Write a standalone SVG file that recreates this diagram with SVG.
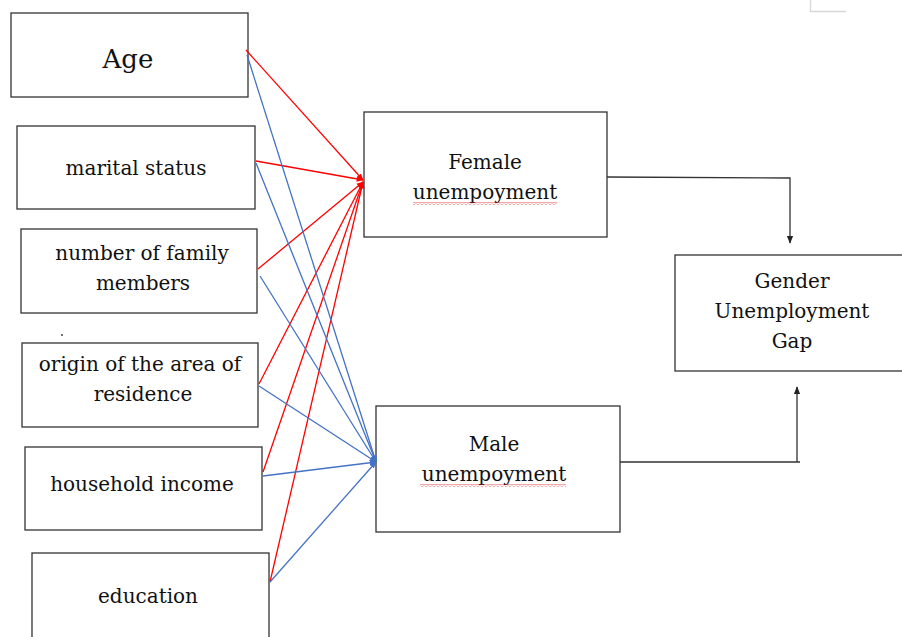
<svg xmlns="http://www.w3.org/2000/svg" width="902" height="637" viewBox="0 0 902 637">
<defs>
<marker id="ar" viewBox="0 0 10 10" refX="9" refY="5" markerWidth="7" markerHeight="7" orient="auto" markerUnits="userSpaceOnUse"><path d="M0,1 L10,5 L0,9 z" fill="#ff0000"/></marker>
<marker id="ab" viewBox="0 0 10 10" refX="9" refY="5" markerWidth="7" markerHeight="7" orient="auto" markerUnits="userSpaceOnUse"><path d="M0,1 L10,5 L0,9 z" fill="#4472c4"/></marker>
<marker id="ak" viewBox="0 0 10 10" refX="9" refY="5" markerWidth="8" markerHeight="8" orient="auto" markerUnits="userSpaceOnUse"><path d="M0,1 L10,5 L0,9 z" fill="#222"/></marker>
<pattern id="wave" x="0" y="0" width="4" height="3" patternUnits="userSpaceOnUse"><path d="M0,2.5 L2,0.5 L4,2.5" fill="none" stroke="#e02020" stroke-width="0.8"/></pattern>
</defs>
<style>
rect.box{fill:#fff;stroke:#333;stroke-width:1.3}
text{font-family:"DejaVu Serif","Liberation Serif",serif;font-size:20px;fill:#111;text-anchor:middle}
.red{stroke:#ff0000;stroke-width:1.3;fill:none;marker-end:url(#ar)}
.blue{stroke:#4472c4;stroke-width:1.3;fill:none;marker-end:url(#ab)}
.blk{stroke:#333;stroke-width:1.3;fill:none}
</style>
<rect width="902" height="637" fill="#fff"/>
<path d="M810.5,0 V11.5 H846" fill="none" stroke="#d8d8d8" stroke-width="1.3"/>
<g id="age"><rect class="box" x="11" y="13" width="237" height="84"/><text x="128" y="68" style="font-size:26px">Age</text></g>
<g id="marital"><rect class="box" x="17" y="126" width="238" height="83"/><text x="136" y="175">marital status</text></g>
<g id="family"><rect class="box" x="21" y="229" width="236" height="84"/><text x="142" y="260">number of family</text><text x="143" y="290">members</text></g>
<circle cx="62" cy="335" r="0.9" fill="#333"/>
<g id="origin"><rect class="box" x="22" y="343" width="236" height="84"/><text x="140" y="371">origin of the area of</text><text x="143" y="401">residence</text></g>
<g id="income"><rect class="box" x="25" y="447" width="237" height="83"/><text x="142" y="491">household income</text></g>
<g id="education"><rect class="box" x="32" y="553" width="237" height="90"/><text x="148" y="603">education</text></g>
<g id="female"><rect class="box" x="364" y="112" width="243" height="125"/><text x="485" y="169">Female</text><text x="485" y="199">unempoyment</text><rect x="413" y="202" width="144" height="3" fill="url(#wave)"/></g>
<g id="male"><rect class="box" x="376" y="406" width="244" height="126"/><text x="494" y="451">Male</text><text x="494" y="481">unempoyment</text><rect x="420" y="484" width="146" height="3" fill="url(#wave)"/></g>
<g id="gap"><rect class="box" x="675" y="255" width="240" height="116"/><text x="792" y="288">Gender</text><text x="792" y="318">Unemployment</text><text x="792" y="348">Gap</text></g>
<g id="connectors">
<line class="red" x1="246" y1="50" x2="363" y2="180"/>
<line class="red" x1="256" y1="161" x2="363" y2="180"/>
<line class="red" x1="258" y1="269" x2="363" y2="182"/>
<line class="red" x1="259" y1="384" x2="363" y2="182"/>
<line class="red" x1="263" y1="472" x2="363" y2="182"/>
<line class="red" x1="270" y1="582" x2="363" y2="182"/>
<line class="blue" x1="247" y1="55" x2="376" y2="462"/>
<line class="blue" x1="256" y1="163" x2="376" y2="462"/>
<line class="blue" x1="260" y1="276" x2="376" y2="462"/>
<line class="blue" x1="259" y1="386" x2="376" y2="462"/>
<line class="blue" x1="263" y1="476" x2="376" y2="462"/>
<line class="blue" x1="270" y1="582" x2="376" y2="462"/>
<path class="blk" d="M607,177 L790,178 L790,243" marker-end="url(#ak)"/>
<path class="blk" d="M620,462 L800,462 M797,462 L797,387" marker-end="url(#ak)"/>
</g>
</svg>
